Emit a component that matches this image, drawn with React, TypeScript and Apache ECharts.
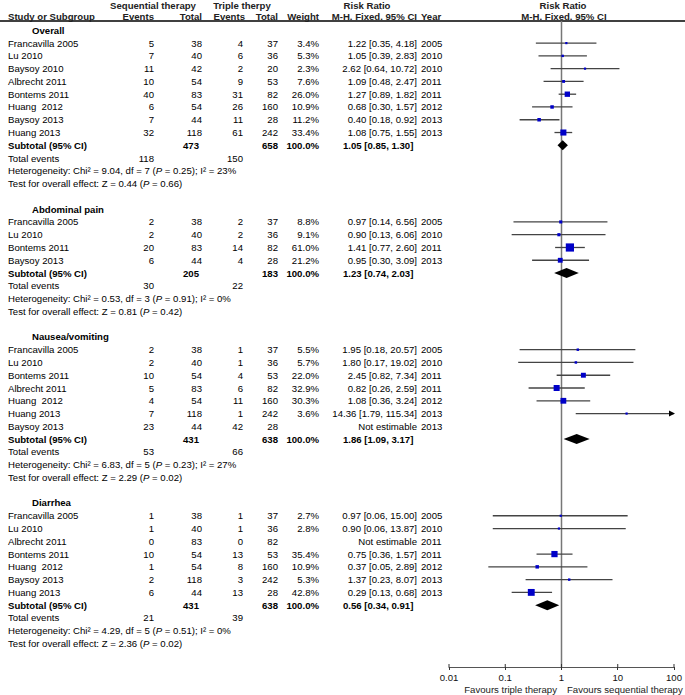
import React, { useEffect, useRef } from "react";
import * as echarts from "echarts";

const FONT = '"Liberation Sans", Arial, Helvetica, sans-serif';
const FS = 9.6;

// ---------- Data ----------
const sectionTitles = ["Overall", "Abdominal pain", "Nausea/vomiting", "Diarrhea"];

const ovNames = ["Francavilla 2005", "Lu 2010", "Baysoy 2010", "Albrecht 2011", "Bontems 2011", "Huang  2012", "Baysoy 2013", "Huang 2013"];
const ovSeqE = [5, 7, 11, 10, 40, 6, 7, 32];
const ovSeqN = [38, 40, 42, 54, 83, 54, 44, 118];
const ovTriE = [4, 6, 2, 9, 31, 26, 11, 61];
const ovTriN = [37, 36, 20, 53, 82, 160, 28, 242];
const ovWeight = [3.4, 5.3, 2.3, 7.6, 26.0, 10.9, 11.2, 33.4];
const ovRR = [1.22, 1.05, 2.62, 1.09, 1.27, 0.68, 0.40, 1.08];
const ovLo = [0.35, 0.39, 0.64, 0.48, 0.89, 0.30, 0.18, 0.75];
const ovHi = [4.18, 2.83, 10.72, 2.47, 1.82, 1.57, 0.92, 1.55];
const ovYear = [2005, 2010, 2010, 2011, 2011, 2012, 2013, 2013];

const abNames = ["Francavilla 2005", "Lu 2010", "Bontems 2011", "Baysoy 2013"];
const abSeqE = [2, 2, 20, 6];
const abSeqN = [38, 40, 83, 44];
const abTriE = [2, 2, 14, 4];
const abTriN = [37, 36, 82, 28];
const abWeight = [8.8, 9.1, 61.0, 21.2];
const abRR = [0.97, 0.90, 1.41, 0.95];
const abLo = [0.14, 0.13, 0.77, 0.30];
const abHi = [6.56, 6.06, 2.60, 3.09];
const abYear = [2005, 2010, 2011, 2013];

const nvNames = ["Francavilla 2005", "Lu 2010", "Bontems 2011", "Albrecht 2011", "Huang  2012", "Huang 2013", "Baysoy 2013"];
const nvSeqE = [2, 2, 10, 5, 4, 7, 23];
const nvSeqN = [38, 40, 54, 83, 54, 118, 44];
const nvTriE = [1, 1, 4, 6, 11, 1, 42];
const nvTriN = [37, 36, 53, 82, 160, 242, 28];
const nvWeight = [5.5, 5.7, 22.0, 32.9, 30.3, 3.6, null];
const nvRR = [1.95, 1.80, 2.45, 0.82, 1.08, 14.36, null];
const nvLo = [0.18, 0.17, 0.82, 0.26, 0.36, 1.79, null];
const nvHi = [20.57, 19.02, 7.34, 2.59, 3.24, 115.34, null];
const nvYear = [2005, 2010, 2011, 2011, 2012, 2013, 2013];

const diNames = ["Francavilla 2005", "Lu 2010", "Albrecht 2011", "Bontems 2011", "Huang  2012", "Baysoy 2013", "Huang 2013"];
const diSeqE = [1, 1, 0, 10, 1, 2, 6];
const diSeqN = [38, 40, 83, 54, 54, 118, 44];
const diTriE = [1, 1, 0, 13, 8, 3, 13];
const diTriN = [37, 36, 82, 53, 160, 242, 28];
const diWeight = [2.7, 2.8, null, 35.4, 10.9, 5.3, 42.8];
const diRR = [0.97, 0.90, null, 0.75, 0.37, 1.37, 0.29];
const diLo = [0.06, 0.06, null, 0.36, 0.05, 0.23, 0.13];
const diHi = [15.00, 13.87, null, 1.57, 2.89, 8.07, 0.68];
const diYear = [2005, 2010, 2011, 2011, 2012, 2013, 2013];

const subSeqN = [473, 205, 431, 431];
const subTriN = [658, 183, 638, 638];
const subRR = [1.05, 1.23, 1.86, 0.56];
const subLo = [0.85, 0.74, 1.09, 0.34];
const subHi = [1.30, 2.03, 3.17, 0.91];
const totSeqEvents = [118, 30, 53, 21];
const totTriEvents = [150, 22, 66, 39];
const hetChi = [9.04, 0.53, 6.83, 4.29];
const hetDf = [7, 3, 5, 5];
const hetP = [0.25, 0.91, 0.23, 0.51];
const hetI2 = [23, 0, 27, 0];
const zVal = [0.44, 0.81, 2.29, 2.36];
const zP = [0.66, 0.42, 0.02, 0.02];

const axisTicks = [0.01, 0.1, 1, 10, 100];

// ---------- Build ----------
const secNames = [ovNames, abNames, nvNames, diNames];
const secSeqE = [ovSeqE, abSeqE, nvSeqE, diSeqE];
const secSeqN = [ovSeqN, abSeqN, nvSeqN, diSeqN];
const secTriE = [ovTriE, abTriE, nvTriE, diTriE];
const secTriN = [ovTriN, abTriN, nvTriN, diTriN];
const secW: (number | null)[][] = [ovWeight, abWeight, nvWeight, diWeight];
const secRR: (number | null)[][] = [ovRR, abRR, nvRR, diRR];
const secLo: (number | null)[][] = [ovLo, abLo, nvLo, diLo];
const secHi: (number | null)[][] = [ovHi, abHi, nvHi, diHi];
const secYear = [ovYear, abYear, nvYear, diYear];

type Cell = { x: number; row: number; text: string; align: string; bold?: boolean; rich?: boolean };
type Study = { row: number; rr: number; lo: number; hi: number; w: number };
type Diamond = { row: number; rr: number; lo: number; hi: number };

const cells: Cell[] = [];
const studies: Study[] = [];
const diamonds: Diamond[] = [];

let r = 0;
sectionTitles.forEach((title, s) => {
  cells.push({ x: 32, row: r, text: title, align: "left", bold: true });
  const n = secNames[s].length;
  for (let i = 0; i < n; i++) {
    const row = r + 1 + i;
    const w = secW[s][i], rr = secRR[s][i], lo = secLo[s][i], hi = secHi[s][i];
    cells.push({ x: 8, row, text: secNames[s][i], align: "left" });
    cells.push({ x: 154, row, text: String(secSeqE[s][i]), align: "right" });
    cells.push({ x: 202, row, text: String(secSeqN[s][i]), align: "right" });
    cells.push({ x: 243, row, text: String(secTriE[s][i]), align: "right" });
    cells.push({ x: 278, row, text: String(secTriN[s][i]), align: "right" });
    if (w != null) cells.push({ x: 319, row, text: w.toFixed(1) + "%", align: "right" });
    cells.push({
      x: 417,
      row,
      text: rr != null && lo != null && hi != null ? `${rr.toFixed(2)} [${lo.toFixed(2)}, ${hi.toFixed(2)}]` : "Not estimable",
      align: "right",
    });
    cells.push({ x: 421, row, text: String(secYear[s][i]), align: "left" });
    if (rr != null && lo != null && hi != null && w != null) studies.push({ row, rr, lo, hi, w });
  }
  const sr = r + n + 1;
  cells.push({ x: 8, row: sr, text: "Subtotal (95% CI)", align: "left", bold: true });
  cells.push({ x: 199, row: sr, text: String(subSeqN[s]), align: "right", bold: true });
  cells.push({ x: 278, row: sr, text: String(subTriN[s]), align: "right", bold: true });
  cells.push({ x: 319, row: sr, text: "100.0%", align: "right", bold: true });
  cells.push({ x: 343, row: sr, text: `${subRR[s].toFixed(2)} [${subLo[s].toFixed(2)}, ${subHi[s].toFixed(2)}]`, align: "left", bold: true });
  diamonds.push({ row: sr, rr: subRR[s], lo: subLo[s], hi: subHi[s] });
  cells.push({ x: 8, row: sr + 1, text: "Total events", align: "left" });
  cells.push({ x: 154, row: sr + 1, text: String(totSeqEvents[s]), align: "right" });
  cells.push({ x: 243, row: sr + 1, text: String(totTriEvents[s]), align: "right" });
  cells.push({
    x: 8,
    row: sr + 2,
    text: `{n|Heterogeneity: Chi² = ${hetChi[s].toFixed(2)}, df = ${hetDf[s]} (}{i|P}{n| = ${hetP[s].toFixed(2)}); I² = ${hetI2[s]}%}`,
    align: "left",
    rich: true,
  });
  cells.push({
    x: 8,
    row: sr + 3,
    text: `{n|Test for overall effect: Z = ${zVal[s].toFixed(2)} (}{i|P}{n| = ${zP[s].toFixed(2)})}`,
    align: "left",
    rich: true,
  });
  r = sr + 5;
});

const Y_MIN = -0.73;
const Y_MAX = 49.84;
const BLUE = "#0000c8";

export default function App() {
  const ref = useRef<HTMLDivElement>(null);
  useEffect(() => {
    if (!ref.current) return;
    const chart = echarts.init(ref.current, undefined, { renderer: "svg" });
    const richStyle = {
      n: { fontSize: FS, fontFamily: FONT, fill: "#000" },
      i: { fontSize: FS, fontFamily: FONT, fontStyle: "italic", fill: "#000" },
    };
    const hdr = (text: string, x: number, y: number, align: string) => ({
      type: "text",
      x,
      y,
      silent: true,
      style: { text, align, verticalAlign: "middle", fontSize: FS, fontFamily: FONT, fontWeight: "bold", fill: "#222" },
    });
    const option: any = {
      animation: false,
      backgroundColor: "#fff",
      grid: [
        { left: 0, top: 21, width: 449, bottom: 28 },
        { left: 449, right: 9, top: 21, bottom: 28 },
      ],
      xAxis: [
        { type: "value", gridIndex: 0, min: 0, max: 449, show: false },
        {
          type: "log",
          gridIndex: 1,
          logBase: 10,
          min: axisTicks[0],
          max: axisTicks[axisTicks.length - 1],
          position: "bottom",
          axisLine: { onZero: false, lineStyle: { color: "#555", width: 1.2 } },
          axisTick: { show: true, length: 3, lineStyle: { color: "#333", width: 1 } },
          axisLabel: { fontSize: FS, fontFamily: FONT, color: "#111", margin: 5, showMinLabel: true, showMaxLabel: true },
          splitLine: { show: false },
        },
      ],
      yAxis: [
        { type: "value", gridIndex: 0, min: Y_MIN, max: Y_MAX, inverse: true, show: false },
        { type: "value", gridIndex: 1, min: Y_MIN, max: Y_MAX, inverse: true, show: false },
      ],
      graphic: [
        { type: "line", silent: true, shape: { x1: 0, y1: 21, x2: 685, y2: 21 }, style: { stroke: "#000", lineWidth: 1.5 } },
        hdr("Sequential therapy", 153, 5, "center"),
        hdr("Triple therpy", 242, 5, "center"),
        hdr("Risk Ratio", 367, 5, "center"),
        hdr("Risk Ratio", 563, 5, "center"),
        hdr("Study or Subgroup", 8, 16, "left"),
        hdr("Events", 154, 16, "right"),
        hdr("Total", 202, 16, "right"),
        hdr("Events", 245, 16, "right"),
        hdr("Total", 278, 16, "right"),
        hdr("Weight", 319, 16, "right"),
        hdr("M-H. Fixed. 95% CI", 417, 16, "right"),
        hdr("Year", 421, 16, "left"),
        hdr("M-H. Fixed. 95% CI", 564, 16, "center"),
        {
          type: "text",
          x: 557,
          y: 689,
          silent: true,
          style: { text: "Favours triple therapy", align: "right", verticalAlign: "middle", fontSize: FS, fontFamily: FONT, fill: "#222" },
        },
        {
          type: "text",
          x: 567,
          y: 689,
          silent: true,
          style: { text: "Favours sequential therapy", align: "left", verticalAlign: "middle", fontSize: FS, fontFamily: FONT, fill: "#222" },
        },
      ],
      series: [
        {
          type: "custom",
          xAxisIndex: 0,
          yAxisIndex: 0,
          silent: true,
          data: cells.map((c) => [c.x, c.row]),
          renderItem: (params: any, api: any) => {
            const c = cells[params.dataIndex];
            const p = api.coord([api.value(0), api.value(1)]);
            const style: any = {
              text: c.text,
              align: c.align,
              verticalAlign: "middle",
              fontSize: FS,
              fontFamily: FONT,
              fontWeight: c.bold ? "bold" : "normal",
              fill: "#000",
            };
            if (c.rich) style.rich = richStyle;
            return { type: "text", x: p[0], y: p[1], style };
          },
        },
        {
          type: "line",
          xAxisIndex: 1,
          yAxisIndex: 1,
          silent: true,
          symbol: "none",
          z: 1,
          data: [
            [1, Y_MIN],
            [1, Y_MAX],
          ],
          lineStyle: { color: "#777", width: 1.5 },
        },
        {
          // upward half of the axis ticks
          type: "custom",
          xAxisIndex: 1,
          yAxisIndex: 1,
          silent: true,
          z: 2,
          data: axisTicks.map((t) => [t, Y_MAX]),
          renderItem: (params: any, api: any) => {
            const p = api.coord([api.value(0), api.value(1)]);
            return { type: "line", shape: { x1: p[0], y1: p[1], x2: p[0], y2: p[1] - 3 }, style: { stroke: "#333", lineWidth: 1 } };
          },
        },
        {
          type: "custom",
          xAxisIndex: 1,
          yAxisIndex: 1,
          silent: true,
          z: 3,
          data: studies.map((s) => [s.rr, s.row]),
          renderItem: (params: any, api: any) => {
            const s = studies[params.dataIndex];
            const max = axisTicks[axisTicks.length - 1];
            const y = api.coord([s.rr, s.row])[1];
            const xl = api.coord([s.lo, s.row])[0];
            const xh = api.coord([Math.min(s.hi, max), s.row])[0];
            const xc = api.coord([s.rr, s.row])[0];
            const size = Math.max(2.2, Math.sqrt(s.w) * 1.05);
            const children: any[] = [
              { type: "line", shape: { x1: xl, y1: y, x2: xh, y2: y }, style: { stroke: "#444", lineWidth: 1.3 } },
              { type: "rect", shape: { x: xc - size / 2, y: y - size / 2, width: size, height: size }, style: { fill: BLUE } },
            ];
            if (s.hi > max) {
              children.push({
                type: "polygon",
                shape: { points: [[xh + 1, y], [xh - 5, y - 3], [xh - 5, y + 3]] },
                style: { fill: "#000" },
              });
            }
            return { type: "group", children };
          },
        },
        {
          type: "custom",
          xAxisIndex: 1,
          yAxisIndex: 1,
          silent: true,
          z: 3,
          data: diamonds.map((d) => [d.rr, d.row]),
          renderItem: (params: any, api: any) => {
            const d = diamonds[params.dataIndex];
            const c = api.coord([d.rr, d.row]);
            const xl = api.coord([d.lo, d.row])[0];
            const xh = api.coord([d.hi, d.row])[0];
            return {
              type: "polygon",
              shape: { points: [[xl, c[1]], [c[0], c[1] - 5], [xh, c[1]], [c[0], c[1] + 5]] },
              style: { fill: "#000" },
            };
          },
        },
      ],
    };
    chart.setOption(option);
    return () => chart.dispose();
  }, []);
  return (
    <div
      ref={ref}
      style={{ position: "fixed", left: 0, top: 0, width: 685, height: 695, background: "#fff" }}
    />
  );
}
